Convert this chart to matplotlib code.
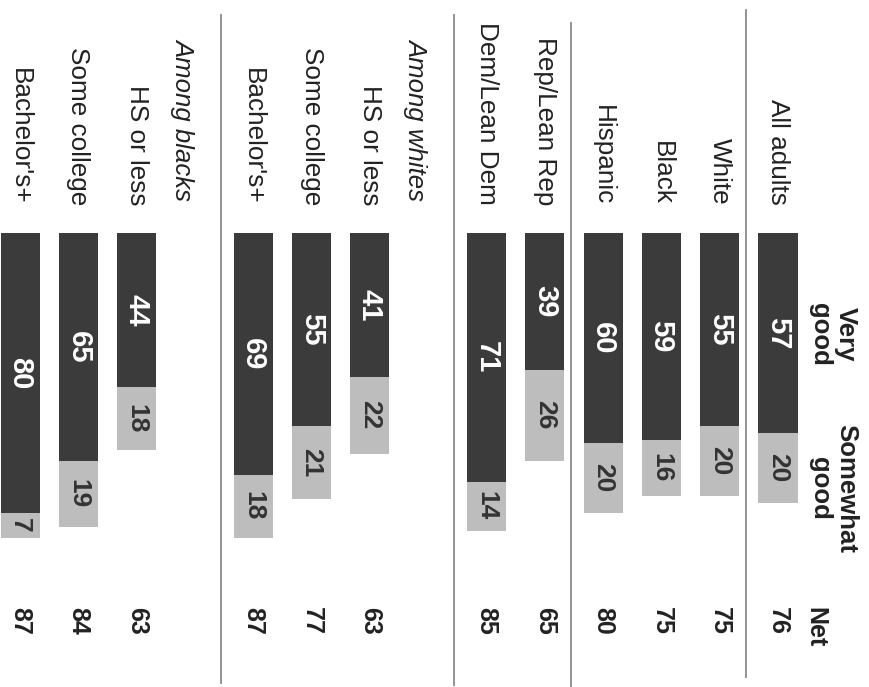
import matplotlib
matplotlib.use('Agg')
import matplotlib.pyplot as plt

plt.rcParams['font.family'] = ['Liberation Sans', 'DejaVu Sans']

# rows as in the original (un-rotated) chart, top to bottom; None = group header row
labels = ['All adults', 'White', 'Black', 'Hispanic', 'Rep/Lean Rep', 'Dem/Lean Dem',
          'Among whites', 'HS or less', 'Some college', "Bachelor's+",
          'Among blacks', 'HS or less', 'Some college', "Bachelor's+"]
very_good = [57, 55, 59, 60, 39, 71, None, 41, 55, 69, None, 44, 65, 80]
somewhat_good = [20, 20, 16, 20, 26, 14, None, 22, 21, 18, None, 18, 19, 7]
net = [76, 75, 75, 80, 65, 85, None, 63, 77, 87, None, 63, 84, 87]

dark = '#3b3b3b'
light = '#bdbdbd'
txt = '#222222'

fig = plt.figure(figsize=(8.69, 6.87), dpi=100)
ax = fig.add_axes([0, 0, 1, 1])
# the whole chart is turned 90 degrees clockwise: rows run right to left, bars grow downward
ax.set_xlim(13.345, -1.561)
ax.set_ylim(129.7, -66.6)
ax.axis('off')

for i, lab in enumerate(labels):
    vg = very_good[i]
    if vg is None:
        # group header, italic
        ax.text(i + 0.2, -9.5, lab, rotation=270, rotation_mode='anchor',
                ha='right', va='center', fontsize=18.5, style='italic', color=txt)
        continue
    sg = somewhat_good[i]
    ax.bar(i, vg, width=0.67, bottom=0, color=dark)
    ax.bar(i, sg, width=0.67, bottom=vg, color=light)
    ax.text(i, -8, lab, rotation=270, rotation_mode='anchor',
            ha='right', va='center', fontsize=18.8, color=txt)
    ax.text(i, vg / 2, str(vg), rotation=270, rotation_mode='anchor',
            ha='center', va='center', fontsize=21, fontweight='bold', color='white')
    ax.text(i, vg + sg / 2, str(sg), rotation=270, rotation_mode='anchor',
            ha='center', va='center', fontsize=19, fontweight='bold', color='#333333')
    ax.text(i, 106.9, str(net[i]), rotation=270, rotation_mode='anchor',
            ha='left', va='center', fontsize=18, fontweight='bold', color=txt)

# column headers
ax.text(-0.94, 29, 'Very\ngood', rotation=270, rotation_mode='anchor', ha='center',
        va='center', multialignment='center', fontsize=18.5, fontweight='bold',
        color=txt, linespacing=1.1)
ax.text(-0.94, 72.9, 'Somewhat\ngood', rotation=270, rotation_mode='anchor', ha='center',
        va='center', multialignment='center', fontsize=18.5, fontweight='bold',
        color=txt, linespacing=1.1)
ax.text(-0.635, 106.9, 'Net', rotation=270, rotation_mode='anchor', ha='left',
        va='center', fontsize=18, fontweight='bold', color=txt)

# separator rules between the groups
for after, top, bottom in [(0, -63.7, 126.9), (3, -60.0, 129.7), (5, -62.3, 129.0), (9, -62.3, 128.6)]:
    ax.plot([after + 0.55, after + 0.55], [top, bottom], color='#8a8a8a', lw=1.3)

fig.savefig('out.png', dpi=100)
